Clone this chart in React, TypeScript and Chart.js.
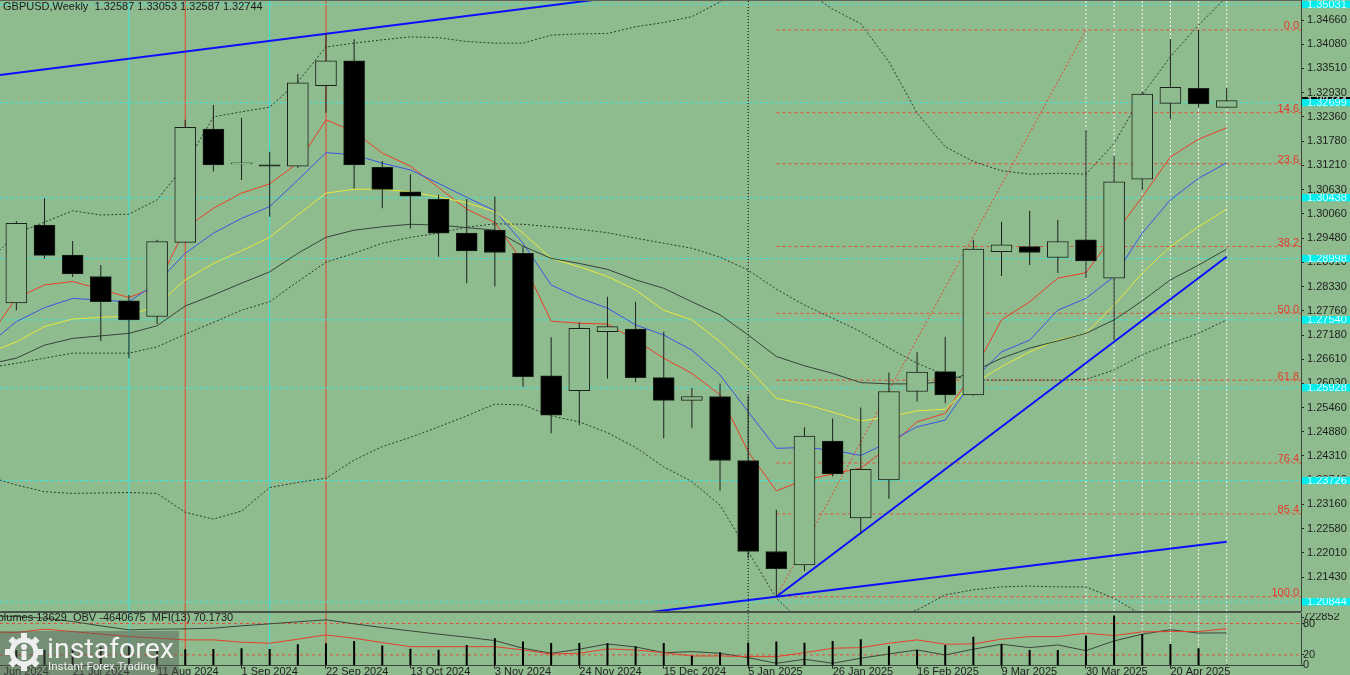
import React, { useEffect, useRef } from 'react';
import { Chart, registerables } from 'chart.js';

Chart.register(...registerables);

// ---------------- data ----------------
const dates = [
  '30 Jun 2024', '7 Jul 2024', '14 Jul 2024', '21 Jul 2024', '28 Jul 2024',
  '4 Aug 2024', '11 Aug 2024', '18 Aug 2024', '25 Aug 2024',
  '1 Sep 2024', '8 Sep 2024', '15 Sep 2024', '22 Sep 2024', '29 Sep 2024',
  '6 Oct 2024', '13 Oct 2024', '20 Oct 2024', '27 Oct 2024',
  '3 Nov 2024', '10 Nov 2024', '17 Nov 2024', '24 Nov 2024',
  '1 Dec 2024', '8 Dec 2024', '15 Dec 2024', '22 Dec 2024', '29 Dec 2024',
  '5 Jan 2025', '12 Jan 2025', '19 Jan 2025', '26 Jan 2025',
  '2 Feb 2025', '9 Feb 2025', '16 Feb 2025', '23 Feb 2025',
  '2 Mar 2025', '9 Mar 2025', '16 Mar 2025', '23 Mar 2025', '30 Mar 2025',
  '6 Apr 2025', '13 Apr 2025', '20 Apr 2025', '27 Apr 2025', '4 May 2025',
];
const dateTickIdx = [0, 3, 6, 9, 12, 15, 18, 21, 24, 27, 30, 33, 36, 39, 42];

const openP = [1.2645, 1.2794, 1.2979, 1.2908, 1.2857, 1.2799, 1.2762, 1.2938, 1.3207, 1.3124, 1.3122, 1.3119, 1.3310, 1.3369, 1.3116, 1.3058, 1.3040, 1.2960, 1.2967, 1.2912, 1.2621, 1.2586, 1.2726, 1.2732, 1.2617, 1.2563, 1.2572, 1.2420, 1.2204, 1.2172, 1.2466, 1.2284, 1.2374, 1.2584, 1.2631, 1.2576, 1.2916, 1.2928, 1.2902, 1.2944, 1.2853, 1.3088, 1.3268, 1.3304, 1.32587];
const highP = [1.2810, 1.2989, 1.3043, 1.2941, 1.2884, 1.2813, 1.2944, 1.3229, 1.3264, 1.3234, 1.3153, 1.3338, 1.3434, 1.3420, 1.3131, 1.3100, 1.3051, 1.3041, 1.3047, 1.2928, 1.2713, 1.2748, 1.2809, 1.2797, 1.2726, 1.2592, 1.2603, 1.2574, 1.2303, 1.2499, 1.2520, 1.2546, 1.2629, 1.2677, 1.2714, 1.2944, 1.2987, 1.3013, 1.2991, 1.3205, 1.3143, 1.3296, 1.3421, 1.34423, 1.33053];
const lowP = [1.2615, 1.2777, 1.2899, 1.2856, 1.2704, 1.2663, 1.2744, 1.2938, 1.3106, 1.3086, 1.2999, 1.3115, 1.3246, 1.3066, 1.3019, 1.2971, 1.2904, 1.2841, 1.2833, 1.2595, 1.2485, 1.2504, 1.2615, 1.2606, 1.2473, 1.2498, 1.2348, 1.2188, 1.20967, 1.2158, 1.2382, 1.2247, 1.2329, 1.2560, 1.2556, 1.2574, 1.2858, 1.2884, 1.2865, 1.2853, 1.2706, 1.3062, 1.3231, 1.3259, 1.32587];
const closeP = [1.2800, 1.2983, 1.2907, 1.2863, 1.2797, 1.2754, 1.2940, 1.3211, 1.3122, 1.3127, 1.3119, 1.3317, 1.3369, 1.3122, 1.3064, 1.3048, 1.2960, 1.2918, 1.2914, 1.2619, 1.2528, 1.2734, 1.2738, 1.2617, 1.2563, 1.2572, 1.2420, 1.2204, 1.2163, 1.2478, 1.2388, 1.2399, 1.2584, 1.2630, 1.2576, 1.2922, 1.2932, 1.2914, 1.2940, 1.2894, 1.3082, 1.3290, 1.3306, 1.3267, 1.32744];

const redMA = [1.2711, 1.2806, 1.2837, 1.2845, 1.2827, 1.2807, 1.2833, 1.2972, 1.3019, 1.3055, 1.3077, 1.3126, 1.3229, 1.3201, 1.3150, 1.3119, 1.3068, 1.3017, 1.2985, 1.2891, 1.2751, 1.2746, 1.2744, 1.2706, 1.2663, 1.2627, 1.2576, 1.2441, 1.2348, 1.2374, 1.2388, 1.2402, 1.2452, 1.2512, 1.2532, 1.2630, 1.2754, 1.2797, 1.2853, 1.2866, 1.2956, 1.3046, 1.3141, 1.3183, 1.3210];
const blueMA = [1.2695, 1.2750, 1.2783, 1.2805, 1.2801, 1.2797, 1.2842, 1.2912, 1.2960, 1.2995, 1.3023, 1.3086, 1.3151, 1.3146, 1.3126, 1.3110, 1.3078, 1.3045, 1.3013, 1.2936, 1.2837, 1.2806, 1.2782, 1.2742, 1.2718, 1.2682, 1.2623, 1.2536, 1.2449, 1.2451, 1.2445, 1.2432, 1.2464, 1.2500, 1.2516, 1.2611, 1.2678, 1.2706, 1.2777, 1.2805, 1.2857, 1.2960, 1.3039, 1.3090, 1.3127];
const yellowMA = [1.2675, 1.2702, 1.2738, 1.2756, 1.2760, 1.2763, 1.2789, 1.2849, 1.2888, 1.2918, 1.2950, 1.3003, 1.3055, 1.3064, 1.3064, 1.3058, 1.3046, 1.3032, 1.3011, 1.2960, 1.2900, 1.2880, 1.2857, 1.2825, 1.2777, 1.2754, 1.2702, 1.2639, 1.2568, 1.2554, 1.2535, 1.2514, 1.2524, 1.2538, 1.2542, 1.2602, 1.2643, 1.2678, 1.2706, 1.2722, 1.2789, 1.2865, 1.2928, 1.2975, 1.3017];
const midBand = [1.2649, 1.2663, 1.2694, 1.2710, 1.2716, 1.2722, 1.2740, 1.2787, 1.2813, 1.2841, 1.2868, 1.2912, 1.2950, 1.2967, 1.2975, 1.2981, 1.2979, 1.2973, 1.2967, 1.2929, 1.2900, 1.2888, 1.2874, 1.2849, 1.2829, 1.2797, 1.2766, 1.2718, 1.2667, 1.2645, 1.2627, 1.2605, 1.2602, 1.2602, 1.2607, 1.2631, 1.2663, 1.2687, 1.2704, 1.2722, 1.2754, 1.2799, 1.2849, 1.2884, 1.2922];
const upperBand = [1.2891, 1.2960, 1.2986, 1.3013, 1.3003, 1.3005, 1.3039, 1.3122, 1.3236, 1.3248, 1.3259, 1.3319, 1.3402, 1.3411, 1.3419, 1.3426, 1.3424, 1.3415, 1.3411, 1.3411, 1.3430, 1.3433, 1.3434, 1.3450, 1.3460, 1.3474, 1.3509, 1.3561, 1.3573, 1.3537, 1.3492, 1.3457, 1.3367, 1.3245, 1.3165, 1.3130, 1.3108, 1.3100, 1.3102, 1.3100, 1.3173, 1.3288, 1.3379, 1.3454, 1.3521];
const lowerBand = [1.2382, 1.2362, 1.2346, 1.2342, 1.2343, 1.2344, 1.2342, 1.2297, 1.2281, 1.2300, 1.2356, 1.2368, 1.2378, 1.2421, 1.2453, 1.2475, 1.2500, 1.2526, 1.2554, 1.2552, 1.2526, 1.2512, 1.2486, 1.2451, 1.2405, 1.2370, 1.2314, 1.2204, 1.2093, 1.2030, 1.1994, 1.2006, 1.2041, 1.2065, 1.2101, 1.2113, 1.2120, 1.2122, 1.2120, 1.2120, 1.2093, 1.2053, 1.1994, 1.1946, 1.1923];
const envBand = [1.2640, 1.2651, 1.2663, 1.2675, 1.2675, 1.2675, 1.2690, 1.2720, 1.2748, 1.2777, 1.2797, 1.2845, 1.2891, 1.2912, 1.2936, 1.2950, 1.2960, 1.2974, 1.2982, 1.2981, 1.2975, 1.2969, 1.2961, 1.2948, 1.2936, 1.2924, 1.2903, 1.2872, 1.2827, 1.2789, 1.2758, 1.2726, 1.2687, 1.2651, 1.2623, 1.2611, 1.2611, 1.2611, 1.2611, 1.2613, 1.2635, 1.2671, 1.2698, 1.2722, 1.2754];

const volumes = [250000, 218000, 224000, 247000, 262000, 276000, 262000, 234000, 239000, 249000, 239000, 307000, 321000, 355000, 287000, 243000, 228000, 297000, 394000, 345000, 326000, 326000, 321000, 278000, 326000, 141000, 191000, 330000, 345000, 330000, 355000, 380000, 282000, 224000, 297000, 417000, 307000, 224000, 224000, 432000, 722852, 457000, 311000, 249000, 13629];
const mfi = [64.0, 62.6, 69.2, 64.6, 59.6, 55.0, 51.9, 48.7, 48.7, 44.3, 42.3, 50.0, 58.2, 51.9, 43.5, 35.8, 35.8, 35.8, 35.8, 29.5, 21.8, 23.2, 31.4, 29.5, 24.3, 18.0, 18.0, 16.7, 16.7, 24.3, 32.8, 33.9, 42.3, 48.7, 40.4, 41.0, 50.0, 55.0, 55.0, 61.5, 56.9, 64.0, 64.6, 64.6, 70.173];
const obv = [-3365675, -3418175, -3538175, -3793175, -4115675, -4415675, -4363175, -4340675, -4288175, -4115675, -3965675, -3815675, -3665675, -3965675, -4243175, -4490675, -4738175, -4963175, -5218175, -5788175, -6163175, -5863175, -5465675, -5690675, -6118175, -6043175, -6163175, -6493175, -6913175, -6613175, -6913175, -6538175, -6215675, -5915675, -6290675, -5863175, -5488175, -5743175, -5540675, -5968175, -5240675, -4738175, -4405304, -4654304, -4640675];

const priceTicks = [1.3466, 1.3408, 1.3351, 1.3293, 1.3236, 1.3178, 1.3121, 1.3063, 1.3006, 1.2948, 1.2891, 1.2833, 1.2776, 1.2718, 1.2661, 1.2603, 1.2546, 1.2488, 1.2431, 1.2374, 1.2316, 1.2258, 1.2201, 1.2143];
const cyanLevels = [1.35031, 1.32699, 1.30438, 1.28998, 1.2754, 1.25928, 1.23726, 1.20844];
const fibHigh = 1.34423;
const fibLow = 1.20967;
const fibLevels = [0, 14.6, 23.6, 38.2, 50.0, 61.8, 76.4, 85.4, 100.0];
const fibStartIdx = 28;
const fibDiagonal = [{ x: 28, y: 1.20967 }, { x: 39, y: 1.34423 }];
const trendUpper = [{ x: 0, y: 1.33318 }, { x: 25, y: 1.35431 }];
const trendLower = [{ x: 23, y: 1.20559 }, { x: 44, y: 1.22273 }];
const trendSteep = [{ x: 28, y: 1.20967 }, { x: 44, y: 1.2904 }];
const cyanVIdx = [5, 10];
const redVIdx = [7, 12];
const blackVIdx = [27];
const whiteVIdx = [39, 40, 41, 42, 43, 44];
const mfiLevels = [80, 20];
const subTicks = [92, 80, 20, 0];
const bidPrice = 1.32744;
const headerText = 'GBPUSD,Weekly  1.32587 1.33053 1.32587 1.32744';
const subHeaderText = 'Volumes 13629  OBV -4640675  MFI(13) 70.1730';

// ---------------- layout / style ----------------
const BG = '#8FBC8F';
const X_MIN = 0.419;
const X_MAX = 46.64;
const Y_MIN = 1.206275;
const Y_MAX = 1.351349;
const VOL_MAX = 760000;
const OBV_MIN = -7070675;
const OBV_MAX = -3155675;
const FONT = '"Liberation Sans", Arial, sans-serif';

const pts = (arr: number[]) => arr.map((y, i) => ({ x: i, y }));
const vSeg = (idx: number[], lo: number, hi: number) =>
  idx.flatMap((x) => [{ x, y: lo }, { x, y: hi }, { x, y: null as any }]);
const hSeg = (levels: number[], x0: number, x1: number) =>
  levels.flatMap((y) => [{ x: x0, y }, { x: x1, y }, { x: x1, y: null as any }]);
const fibPrice = (l: number) => fibHigh - (l / 100) * (fibHigh - fibLow);

function lineDs(data: any[], color: string, extra: any = {}) {
  return {
    type: 'line',
    data,
    borderColor: color,
    backgroundColor: color,
    borderWidth: 1,
    pointRadius: 0,
    pointHoverRadius: 0,
    tension: 0,
    fill: false,
    spanGaps: false,
    clip: 0,
    order: 5,
    ...extra,
  };
}

const zeroPad = (s: any) => {
  s.paddingTop = 0;
  s.paddingBottom = 0;
  s.paddingLeft = 0;
  s.paddingRight = 0;
};

const mainDecor = {
  id: 'mainDecor',
  afterDraw(chart: any) {
    const { ctx, chartArea: ca } = chart;
    const y = chart.scales.y;
    ctx.save();
    ctx.fillStyle = '#46524a';
    ctx.fillRect(0, ca.bottom, ca.right, 2);
    ctx.fillStyle = '#5a665a';
    ctx.fillRect(0, 0, ca.right, 1);
    ctx.font = `11px ${FONT}`;
    ctx.fillStyle = '#1b1b1b';
    ctx.textAlign = 'left';
    ctx.textBaseline = 'middle';
    ctx.fillText(headerText, 3, 6.5);
    ctx.fillStyle = '#e8382c';
    ctx.textAlign = 'right';
    ctx.textBaseline = 'alphabetic';
    fibLevels.forEach((l) => {
      const py = y.getPixelForValue(fibPrice(l));
      ctx.fillText(l.toFixed(1), ca.right - 2, py - 0.5);
    });
    const drawLabel = (p: number, bg: string, fg: string) => {
      const py = y.getPixelForValue(p);
      ctx.save();
      ctx.beginPath();
      ctx.rect(ca.right + 1, py - 3.8, 49, 7.6);
      ctx.clip();
      ctx.fillStyle = bg;
      ctx.fillRect(ca.right + 1, py - 3.8, 49, 7.6);
      ctx.fillStyle = fg;
      ctx.textAlign = 'left';
      ctx.textBaseline = 'middle';
      ctx.font = `11px ${FONT}`;
      ctx.fillText(p.toFixed(5), ca.right + 6, py + 0.5);
      ctx.restore();
    };
    drawLabel(bidPrice, '#000000', '#ffffff');
    cyanLevels.forEach((p) => drawLabel(p, '#00eded', '#d8ffff'));
    ctx.restore();
  },
};

const subDecor = {
  id: 'subDecor',
  afterDraw(chart: any) {
    const { ctx } = chart;
    ctx.save();
    ctx.font = `11px ${FONT}`;
    ctx.fillStyle = '#1b1b1b';
    ctx.textAlign = 'left';
    ctx.textBaseline = 'middle';
    ctx.fillText(subHeaderText, -9, 4.5);
    ctx.restore();
  },
};

export default function App() {
  const mainRef = useRef<HTMLCanvasElement>(null);
  const subRef = useRef<HTMLCanvasElement>(null);

  useEffect(() => {
    if (!mainRef.current || !subRef.current) return;
    Chart.defaults.font.family = FONT;

    const bodies = openP.map((o, i) => ({ x: i, y: [o, closeP[i]] }));
    const wicks = lowP.map((l, i) => ({ x: i, y: [l, highP[i]] }));

    const mainChart = new Chart(mainRef.current, {
      type: 'bar',
      data: {
        datasets: [
          lineDs(vSeg(whiteVIdx, Y_MIN, Y_MAX), '#f4f8f4', { borderDash: [2, 2], order: 9 }),
          lineDs(vSeg(blackVIdx, Y_MIN, Y_MAX), '#000000', { borderDash: [1, 2], order: 9 }),
          lineDs(vSeg(cyanVIdx, Y_MIN, Y_MAX), '#3fe3dc', { order: 9 }),
          lineDs(vSeg(redVIdx, Y_MIN, Y_MAX), '#e4442c', { order: 9 }),
          lineDs(hSeg(cyanLevels, X_MIN, X_MAX), '#3fe3dc', { borderDash: [3, 2], order: 8 }),
          lineDs(hSeg(fibLevels.map(fibPrice), fibStartIdx, X_MAX), '#e0503a', { borderDash: [3, 3], order: 8 }),
          lineDs(fibDiagonal, '#e8402c', { borderDash: [2, 2], order: 8 }),
          lineDs(pts(upperBand), '#2c3a2c', { borderDash: [2, 2], order: 7 }),
          lineDs(pts(lowerBand), '#2c3a2c', { borderDash: [2, 2], order: 7 }),
          lineDs(pts(envBand), '#2c3a2c', { borderDash: [2, 2], order: 7 }),
          lineDs(pts(midBand), '#34443a', { order: 6 }),
          lineDs(pts(yellowMA), '#e8e83a', { order: 6 }),
          lineDs(pts(blueMA), '#3a54e6', { order: 6 }),
          lineDs(pts(redMA), '#ec3c28', { order: 6 }),
          lineDs(trendUpper, '#0a10ff', { borderWidth: 2, order: 4 }),
          lineDs(trendLower, '#0a10ff', { borderWidth: 2, order: 4 }),
          lineDs(trendSteep, '#0a10ff', { borderWidth: 2, order: 4 }),
          {
            type: 'bar',
            data: wicks,
            backgroundColor: '#1c1f1c',
            borderWidth: 0,
            barThickness: 1,
            grouped: false,
            inflateAmount: 0,
            order: 1,
          } as any,
          {
            type: 'bar',
            data: bodies,
            backgroundColor: (c: any) => (closeP[c.dataIndex] >= openP[c.dataIndex] ? BG : '#000000'),
            borderColor: '#1a221a',
            borderWidth: 1,
            borderSkipped: false,
            barThickness: 21,
            grouped: false,
            order: 0,
          } as any,
        ] as any,
      },
      options: {
        responsive: false,
        maintainAspectRatio: false,
        animation: false,
        events: [],
        layout: { padding: { left: 0, right: 0, top: 0, bottom: 2 } },
        plugins: { legend: { display: false }, tooltip: { enabled: false } },
        scales: {
          x: {
            type: 'linear',
            min: X_MIN,
            max: X_MAX,
            offset: false,
            display: false,
            grid: { offset: false },
          },
          y: {
            type: 'linear',
            position: 'right',
            min: Y_MIN,
            max: Y_MAX,
            beginAtZero: false,
            afterBuildTicks: (s: any) => {
              s.ticks = priceTicks.map((v) => ({ value: v }));
            },
            afterFit: (s: any) => {
              s.width = 49;
              zeroPad(s);
            },
            ticks: {
              callback: (v: any) => Number(v).toFixed(5),
              font: { family: FONT, size: 11 },
              color: '#1e1e1e',
              padding: 3,
              autoSkip: false,
            },
            grid: { display: true, drawOnChartArea: false, drawTicks: true, tickLength: 3, color: '#2a2a2a' },
            border: { display: true, color: '#3c443c', width: 1 },
          },
        } as any,
      },
      plugins: [mainDecor],
    } as any);

    const subChart = new Chart(subRef.current, {
      type: 'bar',
      data: {
        datasets: [
          lineDs(vSeg(whiteVIdx, 0, 100), '#f4f8f4', { borderDash: [2, 2], order: 9 }),
          lineDs(vSeg(blackVIdx, 0, 100), '#000000', { borderDash: [1, 2], order: 9 }),
          lineDs(vSeg(cyanVIdx, 0, 100), '#3fe3dc', { order: 9 }),
          lineDs(vSeg(redVIdx, 0, 100), '#e4442c', { order: 9 }),
          lineDs(hSeg(mfiLevels, X_MIN, X_MAX), '#e0503a', { borderDash: [3, 3], order: 8 }),
          lineDs(pts(obv), '#3a463a', { yAxisID: 'yo', order: 6 }),
          lineDs(pts(mfi), '#e4402c', { yAxisID: 'y', order: 5 }),
          {
            type: 'bar',
            data: pts(volumes),
            yAxisID: 'yv',
            backgroundColor: '#000000',
            borderWidth: 0,
            barThickness: 2,
            grouped: false,
            inflateAmount: 0,
            order: 0,
          } as any,
        ] as any,
      },
      options: {
        responsive: false,
        maintainAspectRatio: false,
        animation: false,
        events: [],
        layout: { padding: 0 },
        plugins: { legend: { display: false }, tooltip: { enabled: false } },
        scales: {
          x: {
            type: 'linear',
            position: 'bottom',
            min: X_MIN,
            max: X_MAX,
            offset: false,
            afterBuildTicks: (s: any) => {
              s.ticks = dateTickIdx.map((v) => ({ value: v }));
            },
            afterFit: (s: any) => {
              s.height = 9.6;
              zeroPad(s);
            },
            ticks: {
              callback: (v: any) => dates[v],
              align: 'start',
              autoSkip: false,
              maxRotation: 0,
              minRotation: 0,
              padding: -2,
              font: { family: FONT, size: 11, lineHeight: 1 },
              color: '#1e1e1e',
            },
            grid: { display: true, drawOnChartArea: false, drawTicks: true, tickLength: 3, color: '#222222', offset: false },
            border: { display: true, color: '#3c443c', width: 1 },
          },
          y: {
            type: 'linear',
            position: 'right',
            min: 0,
            max: 100,
            beginAtZero: false,
            afterBuildTicks: (s: any) => {
              s.ticks = subTicks.map((v) => ({ value: v }));
            },
            afterFit: (s: any) => {
              s.width = 49;
              zeroPad(s);
            },
            ticks: {
              callback: (v: any) => (v === subTicks[0] ? String(Math.max(...volumes)) : String(v)),
              font: { family: FONT, size: 11 },
              color: '#1e1e1e',
              padding: -1,
              autoSkip: false,
            },
            grid: { display: true, drawOnChartArea: false, drawTicks: true, tickLength: 3, color: '#2a2a2a' },
            border: { display: true, color: '#3c443c', width: 1 },
          },
          yv: { type: 'linear', display: false, min: 0, max: VOL_MAX, afterFit: zeroPad },
          yo: { type: 'linear', display: false, min: OBV_MIN, max: OBV_MAX, afterFit: zeroPad },
        } as any,
      },
      plugins: [subDecor],
    } as any);

    return () => {
      mainChart.destroy();
      subChart.destroy();
    };
  }, []);

  return (
    <div
      style={{
        position: 'fixed',
        left: 0,
        top: 0,
        width: 1350,
        height: 675,
        background: BG,
        overflow: 'hidden',
      }}
    >
      <canvas ref={mainRef} width={1350} height={613} style={{ position: 'absolute', left: 0, top: 0, display: 'block' }} />
      <canvas ref={subRef} width={1350} height={62} style={{ position: 'absolute', left: 0, top: 613, display: 'block' }} />
      <div
        style={{
          position: 'absolute',
          left: 0,
          top: 631,
          width: 179,
          height: 44,
          background: 'rgba(85,88,85,0.45)',
          overflow: 'hidden',
        }}
      >
        <svg width="40" height="40" viewBox="0 0 40 40" style={{ position: 'absolute', left: 4, top: 1 }}>
          <g fill="#eeeeee">
            {[0, 45, 90, 135, 180, 225, 270, 315].map((a) => (
              <rect key={a} x="17" y="1" width="6" height="8" transform={`rotate(${a} 20 20)`} />
            ))}
          </g>
          <circle cx="20" cy="20" r="12" fill="none" stroke="#eeeeee" strokeWidth="5" />
          <circle cx="20" cy="15" r="3" fill="#eeeeee" />
          <rect x="17.5" y="19" width="5" height="9" fill="#eeeeee" />
        </svg>
        <span
          style={{
            position: 'absolute',
            left: 47,
            top: 4,
            fontFamily: 'Roboto, sans-serif',
            fontSize: 28.5,
            lineHeight: '28px',
            color: '#f2f2f2',
            whiteSpace: 'nowrap',
          }}
        >
          instaforex
        </span>
        <span
          style={{
            position: 'absolute',
            left: 48,
            top: 29,
            fontFamily: 'Roboto, sans-serif',
            fontSize: 11.5,
            lineHeight: '12px',
            color: '#eeeeee',
            whiteSpace: 'nowrap',
          }}
        >
          Instant Forex Trading
        </span>
      </div>
    </div>
  );
}
